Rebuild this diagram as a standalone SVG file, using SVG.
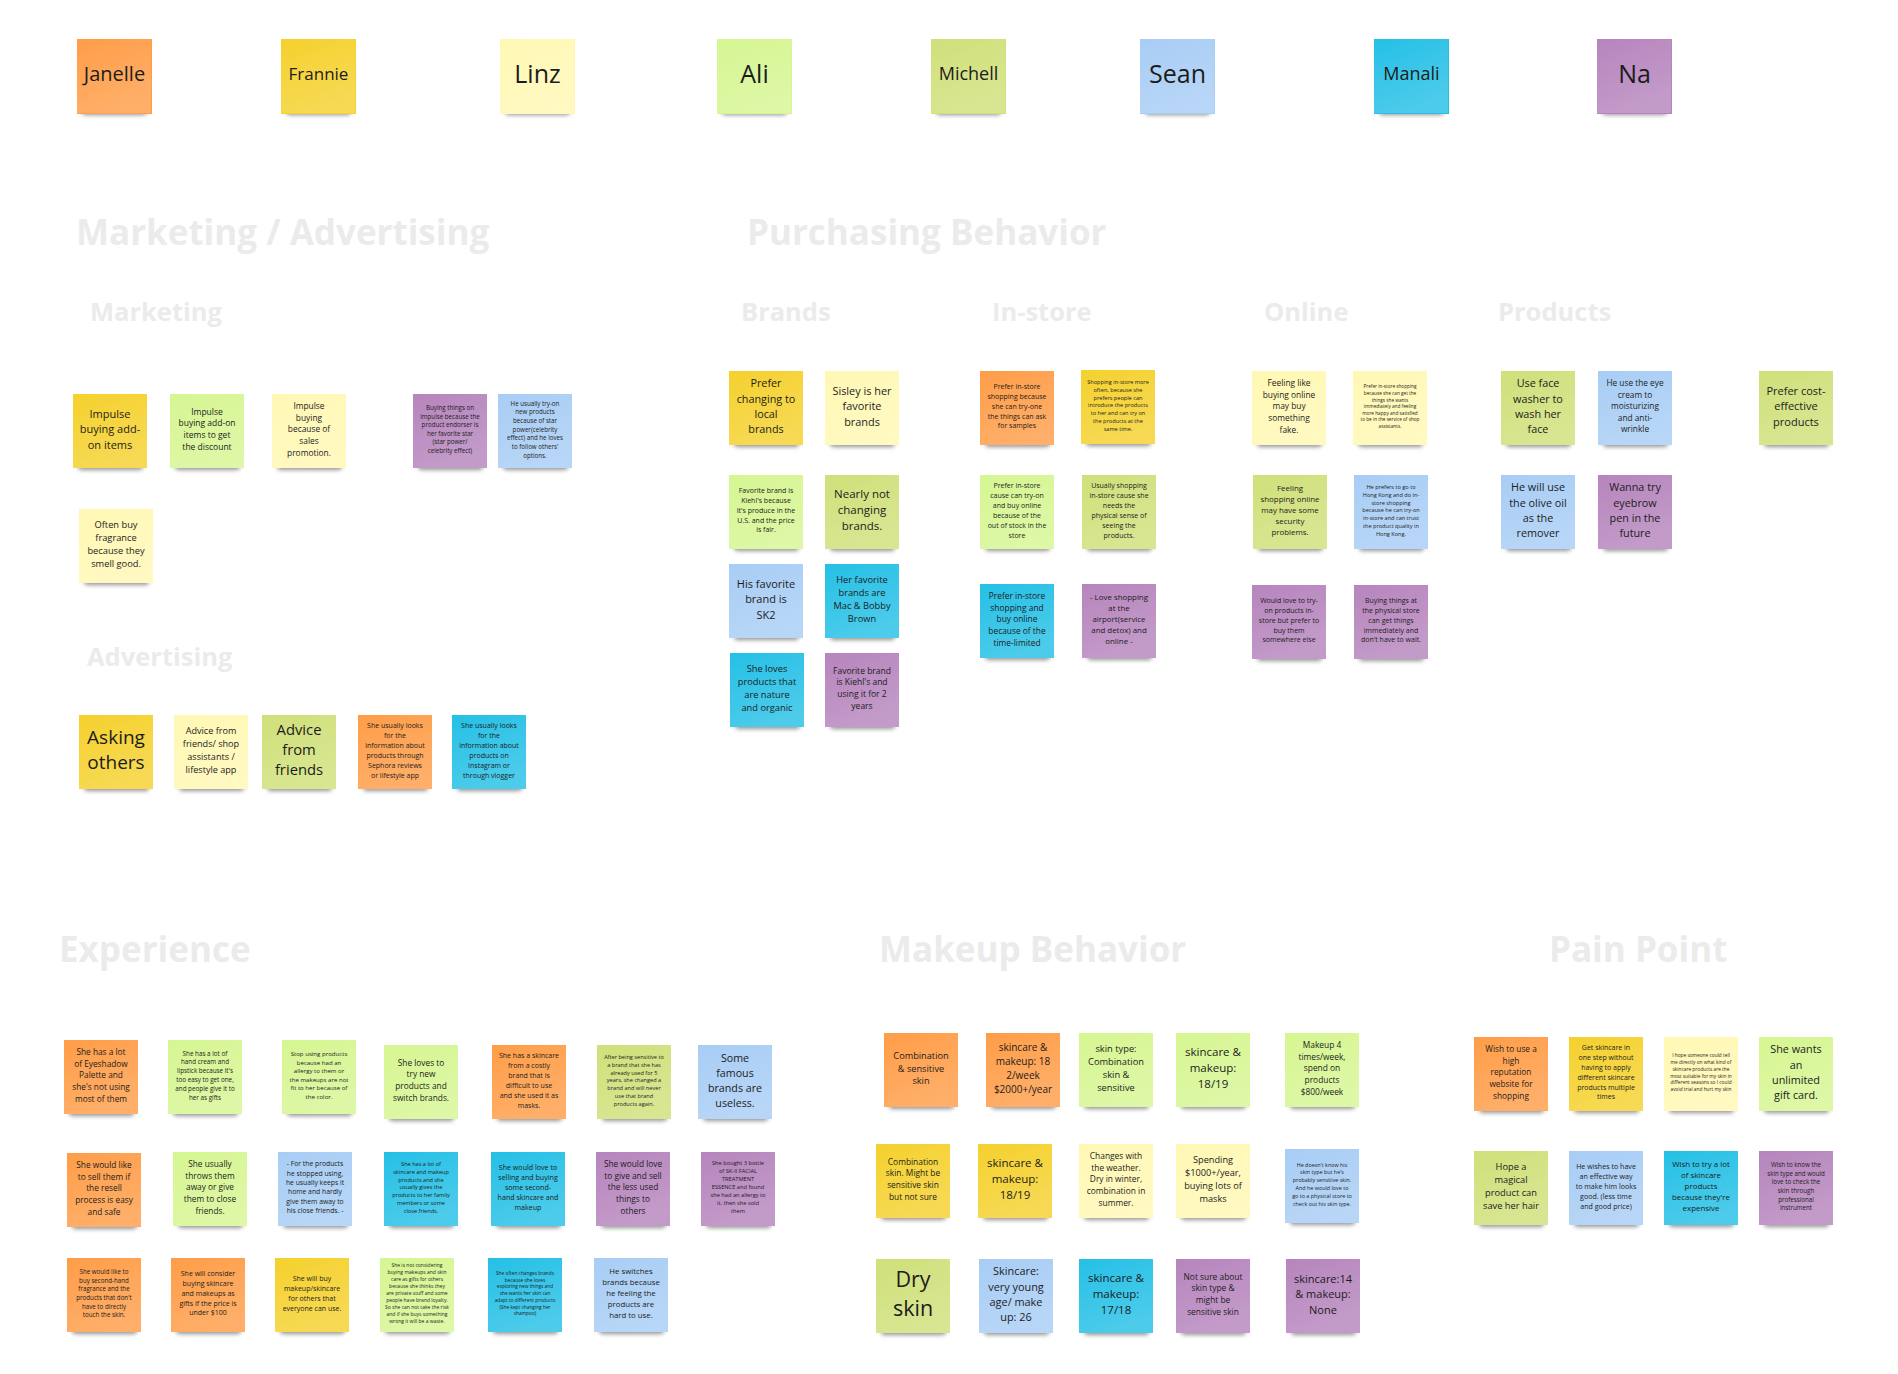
<svg xmlns="http://www.w3.org/2000/svg" xmlns:xlink="http://www.w3.org/1999/xlink" width="1898" height="1374" viewBox="0 0 1898 1374">
<style>
.t{font-family:"Open Sans","Noto Sans","Liberation Sans",sans-serif;fill:#1c1c1c;text-anchor:middle}
.h1{font-family:"Open Sans","Noto Sans","Liberation Sans",sans-serif;font-weight:700;font-size:35px;fill:#ebebeb}
.h2{font-family:"Open Sans","Noto Sans","Liberation Sans",sans-serif;font-weight:700;font-size:25.5px;fill:#ebebeb}
.or{fill:#ff9d48}.ye{fill:#f5d12e}.ly{fill:#fff8b4}.lg{fill:#d6f692}.gr{fill:#d0e07a}.lb{fill:#a8cdf5}.bl{fill:#25c0e6}.vi{fill:#b685bd}
</style>
<defs>
<filter id="blur" x="-30%" y="-100%" width="160%" height="300%"><feGaussianBlur stdDeviation="2.2"/></filter>
<linearGradient id="gl" x1="0" y1="0" x2="0.4" y2="1"><stop offset="0" stop-color="#fff" stop-opacity="0"/><stop offset="1" stop-color="#fff" stop-opacity="0.18"/></linearGradient>
<rect id="shd" x="5" y="65" width="65" height="11" rx="4" fill="#3c3c3c" opacity="0.55" filter="url(#blur)"/>
<rect id="ov" width="74" height="74" fill="url(#gl)"/>
</defs>
<rect width="1898" height="1374" fill="#ffffff"/>

<g id="headers">
<text class="h1" x="76" y="245">Marketing / Advertising</text>
<text class="h1" x="747" y="245">Purchasing Behavior</text>
<text class="h2" x="90" y="321">Marketing</text>
<text class="h2" x="741" y="321">Brands</text>
<text class="h2" x="992" y="321">In-store</text>
<text class="h2" x="1264" y="321">Online</text>
<text class="h2" x="1498" y="321">Products</text>
<text class="h2" x="87" y="666">Advertising</text>
<text class="h1" x="59" y="962">Experience</text>
<text class="h1" x="879" y="962">Makeup Behavior</text>
<text class="h1" x="1549" y="962">Pain Point</text>
</g>

<g id="connectors"></g>

<g id="names">
<g id="n-janelle" transform="translate(77,39)"><use href="#shd"/><rect class="or" width="75" height="75"/><use href="#ov"/><text class="t" style="font-size:20px"><tspan x="37.5" y="41.5">Janelle</tspan></text></g>
<g id="n-frannie" transform="translate(281,39)"><use href="#shd"/><rect class="ye" width="75" height="75"/><use href="#ov"/><text class="t" style="font-size:17px"><tspan x="37.5" y="40.5">Frannie</tspan></text></g>
<g id="n-linz" transform="translate(500,39)"><use href="#shd"/><rect class="ly" width="75" height="75"/><use href="#ov"/><text class="t" style="font-size:25px"><tspan x="37.5" y="43.5">Linz</tspan></text></g>
<g id="n-ali" transform="translate(717,39)"><use href="#shd"/><rect class="lg" width="75" height="75"/><use href="#ov"/><text class="t" style="font-size:25px"><tspan x="37.5" y="43.5">Ali</tspan></text></g>
<g id="n-michell" transform="translate(931,39)"><use href="#shd"/><rect class="gr" width="75" height="75"/><use href="#ov"/><text class="t" style="font-size:18px"><tspan x="37.5" y="41">Michell</tspan></text></g>
<g id="n-sean" transform="translate(1140,39)"><use href="#shd"/><rect class="lb" width="75" height="75"/><use href="#ov"/><text class="t" style="font-size:25px"><tspan x="37.5" y="43.5">Sean</tspan></text></g>
<g id="n-manali" transform="translate(1374,39)"><use href="#shd"/><rect class="bl" width="75" height="75"/><use href="#ov"/><text class="t" style="font-size:18px"><tspan x="37.5" y="41">Manali</tspan></text></g>
<g id="n-na" transform="translate(1597,39)"><use href="#shd"/><rect class="vi" width="75" height="75"/><use href="#ov"/><text class="t" style="font-size:25px"><tspan x="37.5" y="43.5">Na</tspan></text></g>
</g>

<g id="marketing">
<g id="m1" transform="translate(73,394)"><use href="#shd"/><rect class="ye" width="74" height="74"/><use href="#ov"/><text class="t" style="font-size:11px"><tspan x="37" y="23.6">Impulse</tspan><tspan x="37" y="39.1">buying add-</tspan><tspan x="37" y="54.6">on items</tspan></text></g>
<g id="m2" transform="translate(170,394)"><use href="#shd"/><rect class="lg" width="74" height="74"/><use href="#ov"/><text class="t" style="font-size:8.5px"><tspan x="37" y="20.6">Impulse</tspan><tspan x="37" y="32.4">buying add-on</tspan><tspan x="37" y="44.2">items to get</tspan><tspan x="37" y="56">the discount</tspan></text></g>
<g id="m3" transform="translate(272,394)"><use href="#shd"/><rect class="ly" width="74" height="74"/><use href="#ov"/><text class="t" style="font-size:8.4px"><tspan x="37" y="14.9">Impulse</tspan><tspan x="37" y="26.6">buying</tspan><tspan x="37" y="38.3">because of</tspan><tspan x="37" y="50">sales</tspan><tspan x="37" y="61.7">promotion.</tspan></text></g>
<g id="m4" transform="translate(413,394)"><use href="#shd"/><rect class="vi" width="74" height="74"/><use href="#ov"/><text class="t" style="font-size:6.2px"><tspan x="37" y="16.3">Buying things on</tspan><tspan x="37" y="24.8">impulse because the</tspan><tspan x="37" y="33.3">product endorser is</tspan><tspan x="37" y="41.8">her favorite star</tspan><tspan x="37" y="50.3">(star power/</tspan><tspan x="37" y="58.8">celebrity effect)</tspan></text></g>
<g id="m5" transform="translate(498,394)"><use href="#shd"/><rect class="lb" width="74" height="74"/><use href="#ov"/><text class="t" style="font-size:6.2px"><tspan x="37" y="11.5">He usually try-on</tspan><tspan x="37" y="20.2">new products</tspan><tspan x="37" y="28.9">because of star</tspan><tspan x="37" y="37.6">power(celebrity</tspan><tspan x="37" y="46.3">effect) and he loves</tspan><tspan x="37" y="55">to follow others'</tspan><tspan x="37" y="63.7">options.</tspan></text></g>
<g id="m6" transform="translate(79,509)"><use href="#shd"/><rect class="ly" width="74" height="74"/><use href="#ov"/><text class="t" style="font-size:9.3px"><tspan x="37" y="18.9">Often buy</tspan><tspan x="37" y="32">fragrance</tspan><tspan x="37" y="45.1">because they</tspan><tspan x="37" y="58.2">smell good.</tspan></text></g>
</g>

<g id="advertising">
<g id="a1" transform="translate(79,715)"><use href="#shd"/><rect class="ye" width="74" height="74"/><use href="#ov"/><text class="t" style="font-size:19px"><tspan x="37" y="29.3">Asking</tspan><tspan x="37" y="54.3">others</tspan></text></g>
<g id="a2" transform="translate(174,715)"><use href="#shd"/><rect class="ly" width="74" height="74"/><use href="#ov"/><text class="t" style="font-size:9.1px"><tspan x="37" y="19.3">Advice from</tspan><tspan x="37" y="32.1">friends/ shop</tspan><tspan x="37" y="44.9">assistants /</tspan><tspan x="37" y="57.7">lifestyle app</tspan></text></g>
<g id="a3" transform="translate(262,715)"><use href="#shd"/><rect class="gr" width="74" height="74"/><use href="#ov"/><text class="t" style="font-size:14.8px"><tspan x="37" y="20.4">Advice</tspan><tspan x="37" y="40.4">from</tspan><tspan x="37" y="60.4">friends</tspan></text></g>
<g id="a4" transform="translate(358,715)"><use href="#shd"/><rect class="or" width="74" height="74"/><use href="#ov"/><text class="t" style="font-size:7px"><tspan x="37" y="13.1">She usually looks</tspan><tspan x="37" y="23">for the</tspan><tspan x="37" y="32.9">information about</tspan><tspan x="37" y="42.8">products through</tspan><tspan x="37" y="52.7">Sephora reviews</tspan><tspan x="37" y="62.6">or lifestyle app</tspan></text></g>
<g id="a5" transform="translate(452,715)"><use href="#shd"/><rect class="bl" width="74" height="74"/><use href="#ov"/><text class="t" style="font-size:7px"><tspan x="37" y="13.1">She usually looks</tspan><tspan x="37" y="23">for the</tspan><tspan x="37" y="32.9">information about</tspan><tspan x="37" y="42.8">products on</tspan><tspan x="37" y="52.7">Instagram or</tspan><tspan x="37" y="62.6">through vlogger</tspan></text></g>
</g>

<g id="brands">
<g id="b1" transform="translate(729,371)"><use href="#shd"/><rect class="ye" width="74" height="74"/><use href="#ov"/><text class="t" style="font-size:10.8px"><tspan x="37" y="16.4">Prefer</tspan><tspan x="37" y="31.5">changing to</tspan><tspan x="37" y="46.6">local</tspan><tspan x="37" y="61.7">brands</tspan></text></g>
<g id="b2" transform="translate(825,371)"><use href="#shd"/><rect class="ly" width="74" height="74"/><use href="#ov"/><text class="t" style="font-size:10.9px"><tspan x="37" y="23.6">Sisley is her</tspan><tspan x="37" y="39.1">favorite</tspan><tspan x="37" y="54.6">brands</tspan></text></g>
<g id="b3" transform="translate(729,475)"><use href="#shd"/><rect class="lg" width="74" height="74"/><use href="#ov"/><text class="t" style="font-size:7px"><tspan x="37" y="18.4">Favorite brand is</tspan><tspan x="37" y="28.1">Kiehl's because</tspan><tspan x="37" y="37.8">it's produce in the</tspan><tspan x="37" y="47.5">U.S. and the price</tspan><tspan x="37" y="57.2">is fair.</tspan></text></g>
<g id="b4" transform="translate(825,475)"><use href="#shd"/><rect class="gr" width="74" height="74"/><use href="#ov"/><text class="t" style="font-size:11.5px"><tspan x="37" y="23.3">Nearly not</tspan><tspan x="37" y="39.3">changing</tspan><tspan x="37" y="55.3">brands.</tspan></text></g>
<g id="b5" transform="translate(729,564)"><use href="#shd"/><rect class="lb" width="74" height="74"/><use href="#ov"/><text class="t" style="font-size:11px"><tspan x="37" y="23.6">His favorite</tspan><tspan x="37" y="39.1">brand is</tspan><tspan x="37" y="54.6">SK2</tspan></text></g>
<g id="b6" transform="translate(825,564)"><use href="#shd"/><rect class="bl" width="74" height="74"/><use href="#ov"/><text class="t" style="font-size:9.3px"><tspan x="37" y="19.1">Her favorite</tspan><tspan x="37" y="32.1">brands are</tspan><tspan x="37" y="45.1">Mac &amp; Bobby</tspan><tspan x="37" y="58.1">Brown</tspan></text></g>
<g id="b7" transform="translate(730,653)"><use href="#shd"/><rect class="bl" width="74" height="74"/><use href="#ov"/><text class="t" style="font-size:9.3px"><tspan x="37" y="18.9">She loves</tspan><tspan x="37" y="32">products that</tspan><tspan x="37" y="45.1">are nature</tspan><tspan x="37" y="58.2">and organic</tspan></text></g>
<g id="b8" transform="translate(825,653)"><use href="#shd"/><rect class="vi" width="74" height="74"/><use href="#ov"/><text class="t" style="font-size:8.5px"><tspan x="37" y="20.6">Favorite brand</tspan><tspan x="37" y="32.4">is Kiehl's and</tspan><tspan x="37" y="44.2">using it for 2</tspan><tspan x="37" y="56">years</tspan></text></g>
</g>

<g id="instore">
<g id="i1" transform="translate(980,371)"><use href="#shd"/><rect class="or" width="74" height="74"/><use href="#ov"/><text class="t" style="font-size:7px"><tspan x="37" y="18.2">Prefer in-store</tspan><tspan x="37" y="28">shopping because</tspan><tspan x="37" y="37.8">she can try-one</tspan><tspan x="37" y="47.6">the things can ask</tspan><tspan x="37" y="57.4">for samples</tspan></text></g>
<g id="i2" transform="translate(1081,370)"><use href="#shd"/><rect class="ye" width="74" height="74"/><use href="#ov"/><text class="t" style="font-size:5.6px"><tspan x="37" y="14">Shopping in-store more</tspan><tspan x="37" y="21.8">often, because she</tspan><tspan x="37" y="29.6">prefers people can</tspan><tspan x="37" y="37.4">introduce the products</tspan><tspan x="37" y="45.2">to her and can try on</tspan><tspan x="37" y="53">the products at the</tspan><tspan x="37" y="60.8">same time.</tspan></text></g>
<g id="i3" transform="translate(980,475)"><use href="#shd"/><rect class="lg" width="74" height="74"/><use href="#ov"/><text class="t" style="font-size:7px"><tspan x="37" y="13.1">Prefer in-store</tspan><tspan x="37" y="23">cause can try-on</tspan><tspan x="37" y="32.9">and buy online</tspan><tspan x="37" y="42.8">because of the</tspan><tspan x="37" y="52.7">out of stock in the</tspan><tspan x="37" y="62.6">store</tspan></text></g>
<g id="i4" transform="translate(1082,475)"><use href="#shd"/><rect class="gr" width="74" height="74"/><use href="#ov"/><text class="t" style="font-size:7px"><tspan x="37" y="13.1">Usually shopping</tspan><tspan x="37" y="23">in-store cause she</tspan><tspan x="37" y="32.9">needs the</tspan><tspan x="37" y="42.8">physical sense of</tspan><tspan x="37" y="52.7">seeing the</tspan><tspan x="37" y="62.6">products.</tspan></text></g>
<g id="i5" transform="translate(980,584)"><use href="#shd"/><rect class="bl" width="74" height="74"/><use href="#ov"/><text class="t" style="font-size:8.4px"><tspan x="37" y="14.9">Prefer in-store</tspan><tspan x="37" y="26.6">shopping and</tspan><tspan x="37" y="38.3">buy online</tspan><tspan x="37" y="50">because of the</tspan><tspan x="37" y="61.7">time-limited</tspan></text></g>
<g id="i6" transform="translate(1082,584)"><use href="#shd"/><rect class="vi" width="74" height="74"/><use href="#ov"/><text class="t" style="font-size:7.9px"><tspan x="37" y="16.1">- Love shopping</tspan><tspan x="37" y="27.1">at the</tspan><tspan x="37" y="38.1">airport(service</tspan><tspan x="37" y="49.1">and detox) and</tspan><tspan x="37" y="60.1">online -</tspan></text></g>
</g>

<g id="online">
<g id="o1" transform="translate(1252,371)"><use href="#shd"/><rect class="ly" width="74" height="74"/><use href="#ov"/><text class="t" style="font-size:8.4px"><tspan x="37" y="14.9">Feeling like</tspan><tspan x="37" y="26.6">buying online</tspan><tspan x="37" y="38.3">may buy</tspan><tspan x="37" y="50">something</tspan><tspan x="37" y="61.7">fake.</tspan></text></g>
<g id="o2" transform="translate(1353,371)"><use href="#shd"/><rect class="ly" width="74" height="74"/><use href="#ov"/><text class="t" style="font-size:4.7px"><tspan x="37" y="17.3">Prefer in-store shopping</tspan><tspan x="37" y="23.9">because she can get the</tspan><tspan x="37" y="30.5">things she wants</tspan><tspan x="37" y="37.1">immediately and feeling</tspan><tspan x="37" y="43.7">more happy and satisfied</tspan><tspan x="37" y="50.3">to be in the service of shop</tspan><tspan x="37" y="56.9">assistants.</tspan></text></g>
<g id="o3" transform="translate(1253,475)"><use href="#shd"/><rect class="gr" width="74" height="74"/><use href="#ov"/><text class="t" style="font-size:7.9px"><tspan x="37" y="15.9">Feeling</tspan><tspan x="37" y="27">shopping online</tspan><tspan x="37" y="38.1">may have some</tspan><tspan x="37" y="49.2">security</tspan><tspan x="37" y="60.3">problems.</tspan></text></g>
<g id="o4" transform="translate(1354,475)"><use href="#shd"/><rect class="lb" width="74" height="74"/><use href="#ov"/><text class="t" style="font-size:5.6px"><tspan x="37" y="13.7">He prefers to go to</tspan><tspan x="37" y="21.6">Hong Kong and do in-</tspan><tspan x="37" y="29.5">store shopping</tspan><tspan x="37" y="37.4">because he can try-on</tspan><tspan x="37" y="45.3">in-store and can trust</tspan><tspan x="37" y="53.2">the product quality in</tspan><tspan x="37" y="61.1">Hong Kong.</tspan></text></g>
<g id="o5" transform="translate(1252,585)"><use href="#shd"/><rect class="vi" width="74" height="74"/><use href="#ov"/><text class="t" style="font-size:7px"><tspan x="37" y="18.3">Would love to try-</tspan><tspan x="37" y="28.1">on products in-</tspan><tspan x="37" y="37.8">store but prefer to</tspan><tspan x="37" y="47.6">buy them</tspan><tspan x="37" y="57.3">somewhere else</tspan></text></g>
<g id="o6" transform="translate(1354,585)"><use href="#shd"/><rect class="vi" width="74" height="74"/><use href="#ov"/><text class="t" style="font-size:7px"><tspan x="37" y="18.3">Buying things at</tspan><tspan x="37" y="28.1">the physical store</tspan><tspan x="37" y="37.8">can get things</tspan><tspan x="37" y="47.6">immediately and</tspan><tspan x="37" y="57.3">don't have to wait.</tspan></text></g>
</g>

<g id="products">
<g id="p1" transform="translate(1501,371)"><use href="#shd"/><rect class="gr" width="74" height="74"/><use href="#ov"/><text class="t" style="font-size:10.8px"><tspan x="37" y="16.3">Use face</tspan><tspan x="37" y="31.5">washer to</tspan><tspan x="37" y="46.7">wash her</tspan><tspan x="37" y="61.9">face</tspan></text></g>
<g id="p2" transform="translate(1598,371)"><use href="#shd"/><rect class="lb" width="74" height="74"/><use href="#ov"/><text class="t" style="font-size:8.3px"><tspan x="37" y="15">He use the eye</tspan><tspan x="37" y="26.6">cream to</tspan><tspan x="37" y="38.2">moisturizing</tspan><tspan x="37" y="49.8">and anti-</tspan><tspan x="37" y="61.4">wrinkle</tspan></text></g>
<g id="p3" transform="translate(1759,371)"><use href="#shd"/><rect class="gr" width="74" height="74"/><use href="#ov"/><text class="t" style="font-size:11px"><tspan x="37" y="23.6">Prefer cost-</tspan><tspan x="37" y="39.1">effective</tspan><tspan x="37" y="54.6">products</tspan></text></g>
<g id="p4" transform="translate(1501,475)"><use href="#shd"/><rect class="lb" width="74" height="74"/><use href="#ov"/><text class="t" style="font-size:10.8px"><tspan x="37" y="16.3">He will use</tspan><tspan x="37" y="31.5">the olive oil</tspan><tspan x="37" y="46.7">as the</tspan><tspan x="37" y="61.9">remover</tspan></text></g>
<g id="p5" transform="translate(1598,475)"><use href="#shd"/><rect class="vi" width="74" height="74"/><use href="#ov"/><text class="t" style="font-size:10.8px"><tspan x="37" y="16.3">Wanna try</tspan><tspan x="37" y="31.5">eyebrow</tspan><tspan x="37" y="46.7">pen in the</tspan><tspan x="37" y="61.9">future</tspan></text></g>
</g>

<g id="experience">
<g id="e1" transform="translate(64,1040)"><use href="#shd"/><rect class="or" width="74" height="74"/><use href="#ov"/><text class="t" style="font-size:8.3px"><tspan x="37" y="14.8">She has a lot</tspan><tspan x="37" y="26.5">of Eyeshadow</tspan><tspan x="37" y="38.2">Palette and</tspan><tspan x="37" y="49.9">she's not using</tspan><tspan x="37" y="61.6">most of them</tspan></text></g>
<g id="e2" transform="translate(168,1040)"><use href="#shd"/><rect class="lg" width="74" height="74"/><use href="#ov"/><text class="t" style="font-size:6.3px"><tspan x="37" y="15.6">She has a lot of</tspan><tspan x="37" y="24.4">hand cream and</tspan><tspan x="37" y="33.2">lipstick because it's</tspan><tspan x="37" y="42">too easy to get one,</tspan><tspan x="37" y="50.8">and people give it to</tspan><tspan x="37" y="59.6">her as gifts</tspan></text></g>
<g id="e3" transform="translate(282,1040)"><use href="#shd"/><rect class="lg" width="74" height="74"/><use href="#ov"/><text class="t" style="font-size:6.1px"><tspan x="37" y="16">Stop using products</tspan><tspan x="37" y="24.6">because had an</tspan><tspan x="37" y="33.2">allergy to them or</tspan><tspan x="37" y="41.8">the makeups are not</tspan><tspan x="37" y="50.4">fit to her because of</tspan><tspan x="37" y="59">the color.</tspan></text></g>
<g id="e4" transform="translate(384,1045)"><use href="#shd"/><rect class="lg" width="74" height="74"/><use href="#ov"/><text class="t" style="font-size:8.3px"><tspan x="37" y="20.7">She loves to</tspan><tspan x="37" y="32.4">try new</tspan><tspan x="37" y="44.1">products and</tspan><tspan x="37" y="55.8">switch brands.</tspan></text></g>
<g id="e5" transform="translate(492,1045)"><use href="#shd"/><rect class="or" width="74" height="74"/><use href="#ov"/><text class="t" style="font-size:7px"><tspan x="37" y="13.1">She has a skincare</tspan><tspan x="37" y="23">from a costly</tspan><tspan x="37" y="32.9">brand that is</tspan><tspan x="37" y="42.8">difficult to use</tspan><tspan x="37" y="52.7">and she used it as</tspan><tspan x="37" y="62.6">masks.</tspan></text></g>
<g id="e6" transform="translate(597,1045)"><use href="#shd"/><rect class="gr" width="74" height="74"/><use href="#ov"/><text class="t" style="font-size:5.6px"><tspan x="37" y="14">After being sensitive to</tspan><tspan x="37" y="21.8">a brand that she has</tspan><tspan x="37" y="29.6">already used for 5</tspan><tspan x="37" y="37.4">years, she changed a</tspan><tspan x="37" y="45.2">brand and will never</tspan><tspan x="37" y="53">use that brand</tspan><tspan x="37" y="60.8">products again.</tspan></text></g>
<g id="e7" transform="translate(698,1045)"><use href="#shd"/><rect class="lb" width="74" height="74"/><use href="#ov"/><text class="t" style="font-size:10.7px"><tspan x="37" y="16.5">Some</tspan><tspan x="37" y="31.5">famous</tspan><tspan x="37" y="46.5">brands are</tspan><tspan x="37" y="61.5">useless.</tspan></text></g>

<g id="f1" transform="translate(67,1153)"><use href="#shd"/><rect class="or" width="74" height="74"/><use href="#ov"/><text class="t" style="font-size:8.3px"><tspan x="37" y="14.8">She would like</tspan><tspan x="37" y="26.5">to sell them if</tspan><tspan x="37" y="38.2">the resell</tspan><tspan x="37" y="49.9">process is easy</tspan><tspan x="37" y="61.6">and safe</tspan></text></g>
<g id="f2" transform="translate(173,1152)"><use href="#shd"/><rect class="lg" width="74" height="74"/><use href="#ov"/><text class="t" style="font-size:8.3px"><tspan x="37" y="14.8">She usually</tspan><tspan x="37" y="26.5">throws them</tspan><tspan x="37" y="38.2">away or give</tspan><tspan x="37" y="49.9">them to close</tspan><tspan x="37" y="61.6">friends.</tspan></text></g>
<g id="f3" transform="translate(278,1152)"><use href="#shd"/><rect class="lb" width="74" height="74"/><use href="#ov"/><text class="t" style="font-size:6.8px"><tspan x="37" y="14.2">- For the products</tspan><tspan x="37" y="23.6">he stopped using,</tspan><tspan x="37" y="33">he usually keeps it</tspan><tspan x="37" y="42.4">home and hardly</tspan><tspan x="37" y="51.8">give them away to</tspan><tspan x="37" y="61.2">his close friends. -</tspan></text></g>
<g id="f4" transform="translate(384,1152)"><use href="#shd"/><rect class="bl" width="74" height="74"/><use href="#ov"/><text class="t" style="font-size:5.6px"><tspan x="37" y="14">She has a lot of</tspan><tspan x="37" y="21.8">skincare and makeup</tspan><tspan x="37" y="29.6">products and she</tspan><tspan x="37" y="37.4">usually gives the</tspan><tspan x="37" y="45.2">products to her family</tspan><tspan x="37" y="53">members or some</tspan><tspan x="37" y="60.8">close friends.</tspan></text></g>
<g id="f5" transform="translate(491,1152)"><use href="#shd"/><rect class="bl" width="74" height="74"/><use href="#ov"/><text class="t" style="font-size:7.1px"><tspan x="37" y="17.8">She would love to</tspan><tspan x="37" y="27.8">selling and buying</tspan><tspan x="37" y="37.8">some second-</tspan><tspan x="37" y="47.8">hand skincare and</tspan><tspan x="37" y="57.8">makeup</tspan></text></g>
<g id="f6" transform="translate(596,1152)"><use href="#shd"/><rect class="vi" width="74" height="74"/><use href="#ov"/><text class="t" style="font-size:8.3px"><tspan x="37" y="14.8">She would love</tspan><tspan x="37" y="26.5">to give and sell</tspan><tspan x="37" y="38.2">the less used</tspan><tspan x="37" y="49.9">things to</tspan><tspan x="37" y="61.6">others</tspan></text></g>
<g id="f7" transform="translate(701,1152)"><use href="#shd"/><rect class="vi" width="74" height="74"/><use href="#ov"/><text class="t" style="font-size:5.7px"><tspan x="37" y="13.4">She bought 3 bottle</tspan><tspan x="37" y="21.4">of SK-II FACIAL</tspan><tspan x="37" y="29.4">TREATMENT</tspan><tspan x="37" y="37.4">ESSENCE and found</tspan><tspan x="37" y="45.4">she had an allergy to</tspan><tspan x="37" y="53.4">it, then she sold</tspan><tspan x="37" y="61.4">them</tspan></text></g>

<g id="g1" transform="translate(67,1258)"><use href="#shd"/><rect class="or" width="74" height="74"/><use href="#ov"/><text class="t" style="font-size:6.2px"><tspan x="37" y="15.8">She would like to</tspan><tspan x="37" y="24.5">buy second-hand</tspan><tspan x="37" y="33.2">fragrance and the</tspan><tspan x="37" y="41.9">products that don't</tspan><tspan x="37" y="50.6">have to directly</tspan><tspan x="37" y="59.3">touch the skin.</tspan></text></g>
<g id="g2" transform="translate(171,1258)"><use href="#shd"/><rect class="or" width="74" height="74"/><use href="#ov"/><text class="t" style="font-size:7px"><tspan x="37" y="18.2">She will consider</tspan><tspan x="37" y="28">buying skincare</tspan><tspan x="37" y="37.8">and makeups as</tspan><tspan x="37" y="47.6">gifts if the price is</tspan><tspan x="37" y="57.4">under $100</tspan></text></g>
<g id="g3" transform="translate(275,1258)"><use href="#shd"/><rect class="ye" width="74" height="74"/><use href="#ov"/><text class="t" style="font-size:7px"><tspan x="37" y="23">She will buy</tspan><tspan x="37" y="32.9">makeup/skincare</tspan><tspan x="37" y="42.8">for others that</tspan><tspan x="37" y="52.7">everyone can use.</tspan></text></g>
<g id="g4" transform="translate(380,1258)"><use href="#shd"/><rect class="lg" width="74" height="74"/><use href="#ov"/><text class="t" style="font-size:5px"><tspan x="37" y="9.2">She is not considering</tspan><tspan x="37" y="16.2">buying makeups and skin</tspan><tspan x="37" y="23.2">care as gifts for others</tspan><tspan x="37" y="30.2">because she thinks they</tspan><tspan x="37" y="37.2">are private stuff and some</tspan><tspan x="37" y="44.2">people have brand loyalty.</tspan><tspan x="37" y="51.2">So she can not take the risk</tspan><tspan x="37" y="58.2">and if she buys something</tspan><tspan x="37" y="65.2">wrong it will be a waste.</tspan></text></g>
<g id="g5" transform="translate(488,1258)"><use href="#shd"/><rect class="bl" width="74" height="74"/><use href="#ov"/><text class="t" style="font-size:4.8px"><tspan x="37" y="17">She often changes brands</tspan><tspan x="37" y="23.7">because she loves</tspan><tspan x="37" y="30.4">exploring new things and</tspan><tspan x="37" y="37.1">she wants her skin can</tspan><tspan x="37" y="43.8">adapt to different products</tspan><tspan x="37" y="50.5">(She kept changing her</tspan><tspan x="37" y="57.2">shampoo)</tspan></text></g>
<g id="g6" transform="translate(594,1258)"><use href="#shd"/><rect class="lb" width="74" height="74"/><use href="#ov"/><text class="t" style="font-size:7.8px"><tspan x="37" y="16.3">He switches</tspan><tspan x="37" y="27.2">brands because</tspan><tspan x="37" y="38.1">he feeling the</tspan><tspan x="37" y="49">products are</tspan><tspan x="37" y="59.9">hard to use.</tspan></text></g>
</g>

<g id="makeup">
<g id="k1" transform="translate(884,1033)"><use href="#shd"/><rect class="or" width="74" height="74"/><use href="#ov"/><text class="t" style="font-size:9.2px"><tspan x="37" y="25.8">Combination</tspan><tspan x="37" y="38.5">&amp; sensitive</tspan><tspan x="37" y="51.2">skin</tspan></text></g>
<g id="k2" transform="translate(986,1033)"><use href="#shd"/><rect class="or" width="74" height="74"/><use href="#ov"/><text class="t" style="font-size:10px"><tspan x="37" y="17.8">skincare &amp;</tspan><tspan x="37" y="31.8">makeup: 18</tspan><tspan x="37" y="45.8">2/week</tspan><tspan x="37" y="59.8">$2000+/year</tspan></text></g>
<g id="k3" transform="translate(1079,1033)"><use href="#shd"/><rect class="lg" width="74" height="74"/><use href="#ov"/><text class="t" style="font-size:9.3px"><tspan x="37" y="19.1">skin type:</tspan><tspan x="37" y="32.1">Combination</tspan><tspan x="37" y="45.1">skin &amp;</tspan><tspan x="37" y="58.1">sensitive</tspan></text></g>
<g id="k4" transform="translate(1176,1033)"><use href="#shd"/><rect class="lg" width="74" height="74"/><use href="#ov"/><text class="t" style="font-size:11.5px"><tspan x="37" y="23.3">skincare &amp;</tspan><tspan x="37" y="39.3">makeup:</tspan><tspan x="37" y="55.3">18/19</tspan></text></g>
<g id="k5" transform="translate(1285,1033)"><use href="#shd"/><rect class="lg" width="74" height="74"/><use href="#ov"/><text class="t" style="font-size:8.4px"><tspan x="37" y="14.8">Makeup 4</tspan><tspan x="37" y="26.5">times/week,</tspan><tspan x="37" y="38.3">spend on</tspan><tspan x="37" y="50">products</tspan><tspan x="37" y="61.8">$800/week</tspan></text></g>
<g id="k6" transform="translate(876,1144)"><use href="#shd"/><rect class="ye" width="74" height="74"/><use href="#ov"/><text class="t" style="font-size:8.4px"><tspan x="37" y="20.6">Combination</tspan><tspan x="37" y="32.4">skin. Might be</tspan><tspan x="37" y="44.2">sensitive skin</tspan><tspan x="37" y="56">but not sure</tspan></text></g>
<g id="k7" transform="translate(978,1144)"><use href="#shd"/><rect class="ye" width="74" height="74"/><use href="#ov"/><text class="t" style="font-size:11.5px"><tspan x="37" y="23.3">skincare &amp;</tspan><tspan x="37" y="39.3">makeup:</tspan><tspan x="37" y="55.3">18/19</tspan></text></g>
<g id="k8" transform="translate(1079,1144)"><use href="#shd"/><rect class="ly" width="74" height="74"/><use href="#ov"/><text class="t" style="font-size:8.4px"><tspan x="37" y="14.9">Changes with</tspan><tspan x="37" y="26.6">the weather.</tspan><tspan x="37" y="38.3">Dry in winter,</tspan><tspan x="37" y="50">combination in</tspan><tspan x="37" y="61.7">summer.</tspan></text></g>
<g id="k9" transform="translate(1176,1144)"><use href="#shd"/><rect class="ly" width="74" height="74"/><use href="#ov"/><text class="t" style="font-size:9.2px"><tspan x="37" y="19.2">Spending</tspan><tspan x="37" y="32.1">$1000+/year,</tspan><tspan x="37" y="45">buying lots of</tspan><tspan x="37" y="57.9">masks</tspan></text></g>
<g id="k10" transform="translate(1285,1149)"><use href="#shd"/><rect class="lb" width="74" height="74"/><use href="#ov"/><text class="t" style="font-size:5.4px"><tspan x="37" y="17.5">He doesn't know his</tspan><tspan x="37" y="25.4">skin type but he's</tspan><tspan x="37" y="33.3">probably sensitive skin.</tspan><tspan x="37" y="41.2">And he would love to</tspan><tspan x="37" y="49.1">go to a physical store to</tspan><tspan x="37" y="57">check out his skin type.</tspan></text></g>
<g id="k11" transform="translate(876,1259)"><use href="#shd"/><rect class="gr" width="74" height="74"/><use href="#ov"/><text class="t" style="font-size:21.5px"><tspan x="37" y="28.1">Dry</tspan><tspan x="37" y="57.1">skin</tspan></text></g>
<g id="k12" transform="translate(979,1259)"><use href="#shd"/><rect class="lb" width="74" height="74"/><use href="#ov"/><text class="t" style="font-size:10.9px"><tspan x="37" y="16.2">Skincare:</tspan><tspan x="37" y="31.5">very young</tspan><tspan x="37" y="46.8">age/ make</tspan><tspan x="37" y="62.1">up: 26</tspan></text></g>
<g id="k13" transform="translate(1079,1259)"><use href="#shd"/><rect class="bl" width="74" height="74"/><use href="#ov"/><text class="t" style="font-size:11.5px"><tspan x="37" y="23.3">skincare &amp;</tspan><tspan x="37" y="39.3">makeup:</tspan><tspan x="37" y="55.3">17/18</tspan></text></g>
<g id="k14" transform="translate(1176,1259)"><use href="#shd"/><rect class="vi" width="74" height="74"/><use href="#ov"/><text class="t" style="font-size:8.4px"><tspan x="37" y="20.6">Not sure about</tspan><tspan x="37" y="32.4">skin type &amp;</tspan><tspan x="37" y="44.2">might be</tspan><tspan x="37" y="56">sensitive skin</tspan></text></g>
<g id="k15" transform="translate(1286,1259)"><use href="#shd"/><rect class="vi" width="74" height="74"/><use href="#ov"/><text class="t" style="font-size:11px"><tspan x="37" y="23.6">skincare:14</tspan><tspan x="37" y="39.1">&amp; makeup:</tspan><tspan x="37" y="54.6">None</tspan></text></g>
</g>

<g id="painpoint">
<g id="q1" transform="translate(1474,1037)"><use href="#shd"/><rect class="or" width="74" height="74"/><use href="#ov"/><text class="t" style="font-size:8.3px"><tspan x="37" y="14.8">Wish to use a</tspan><tspan x="37" y="26.5">high</tspan><tspan x="37" y="38.2">reputation</tspan><tspan x="37" y="49.9">website for</tspan><tspan x="37" y="61.6">shopping</tspan></text></g>
<g id="q2" transform="translate(1569,1037)"><use href="#shd"/><rect class="ye" width="74" height="74"/><use href="#ov"/><text class="t" style="font-size:7px"><tspan x="37" y="13.3">Get skincare in</tspan><tspan x="37" y="23.1">one step without</tspan><tspan x="37" y="32.9">having to apply</tspan><tspan x="37" y="42.7">different skincare</tspan><tspan x="37" y="52.5">products multiple</tspan><tspan x="37" y="62.3">times</tspan></text></g>
<g id="q3" transform="translate(1664,1037)"><use href="#shd"/><rect class="ly" width="74" height="74"/><use href="#ov"/><text class="t" style="font-size:4.8px"><tspan x="37" y="20.1">I hope someone could tell</tspan><tspan x="37" y="26.9">me directly on what kind of</tspan><tspan x="37" y="33.7">skincare products are the</tspan><tspan x="37" y="40.5">most suitable for my skin in</tspan><tspan x="37" y="47.3">different seasons so I could</tspan><tspan x="37" y="54.1">avoid trial and hurt my skin</tspan></text></g>
<g id="q4" transform="translate(1759,1037)"><use href="#shd"/><rect class="lg" width="74" height="74"/><use href="#ov"/><text class="t" style="font-size:10.8px"><tspan x="37" y="16.4">She wants</tspan><tspan x="37" y="31.5">an</tspan><tspan x="37" y="46.6">unlimited</tspan><tspan x="37" y="61.7">gift card.</tspan></text></g>
<g id="q5" transform="translate(1474,1151)"><use href="#shd"/><rect class="gr" width="74" height="74"/><use href="#ov"/><text class="t" style="font-size:9.3px"><tspan x="37" y="19.1">Hope a</tspan><tspan x="37" y="32.1">magical</tspan><tspan x="37" y="45.1">product can</tspan><tspan x="37" y="58.1">save her hair</tspan></text></g>
<g id="q6" transform="translate(1569,1151)"><use href="#shd"/><rect class="lb" width="74" height="74"/><use href="#ov"/><text class="t" style="font-size:7.1px"><tspan x="37" y="17.8">He wishes to have</tspan><tspan x="37" y="27.8">an effective way</tspan><tspan x="37" y="37.8">to make him looks</tspan><tspan x="37" y="47.8">good. (less time</tspan><tspan x="37" y="57.8">and good price)</tspan></text></g>
<g id="q7" transform="translate(1664,1151)"><use href="#shd"/><rect class="bl" width="74" height="74"/><use href="#ov"/><text class="t" style="font-size:7.9px"><tspan x="37" y="16.1">Wish to try a lot</tspan><tspan x="37" y="27.1">of skincare</tspan><tspan x="37" y="38.1">products</tspan><tspan x="37" y="49.1">because they're</tspan><tspan x="37" y="60.1">expensive</tspan></text></g>
<g id="q8" transform="translate(1759,1151)"><use href="#shd"/><rect class="vi" width="74" height="74"/><use href="#ov"/><text class="t" style="font-size:6.2px"><tspan x="37" y="15.8">Wish to know the</tspan><tspan x="37" y="24.5">skin type and would</tspan><tspan x="37" y="33.2">love to check the</tspan><tspan x="37" y="41.9">skin through</tspan><tspan x="37" y="50.6">professional</tspan><tspan x="37" y="59.3">instrument</tspan></text></g>
</g>
</svg>
